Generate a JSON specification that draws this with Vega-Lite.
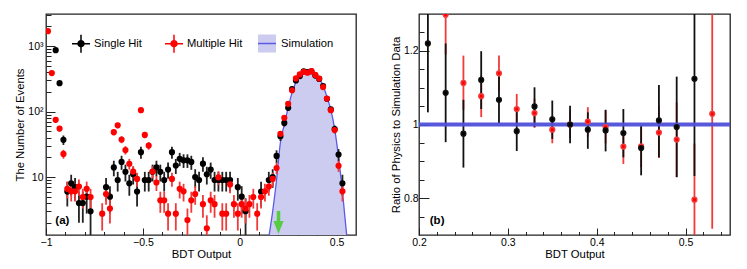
{
  "$schema": "https://vega.github.io/schema/vega-lite/v6.json",
  "background": "white",
  "padding": {"left": 14, "top": 13, "right": 5, "bottom": 2},
  "spacing": 63,
  "bounds": "flush",
  "config": {
    "view": {"stroke": "#222", "strokeWidth": 1.3},
    "font": "Liberation Sans",
    "axis": {"domain": false, "grid": false, "labelFont": "Liberation Sans", "labelFontSize": 10.5, "labelColor": "#000", "titleFont": "Liberation Sans", "titleFontSize": 11.3, "titleFontWeight": "normal", "titleColor": "#000", "tickColor": "#222", "tickWidth": 1, "labelFlush": false, "labelOverlap": false, "labelBound": false},
    "legend": {"labelFont": "Liberation Sans", "labelFontSize": 11.2, "labelColor": "#000", "padding": 0}
  },
  "datasets": {
    "left": [
      {"x":-0.95,"s":"Single Hit","y":869,"lo":839.5,"hi":898.5},
      {"x":-0.93,"s":"Single Hit","y":272,"lo":255.5,"hi":288.5},
      {"x":-0.91,"s":"Single Hit","y":37,"lo":30.9,"hi":43.1},
      {"x":-0.89,"s":"Single Hit","y":6,"lo":3.55,"hi":8.45},
      {"x":-0.87,"s":"Single Hit","y":8,"lo":5.17,"hi":10.83},
      {"x":-0.85,"s":"Single Hit","y":7,"lo":4.35,"hi":9.65},
      {"x":-0.83,"s":"Single Hit","y":4,"lo":2,"hi":6},
      {"x":-0.81,"s":"Single Hit","y":4,"lo":2,"hi":6},
      {"x":-0.79,"s":"Single Hit","y":5,"lo":2.76,"hi":7.24},
      {"x":-0.77,"s":"Single Hit","y":3,"lo":1.27,"hi":4.73},
      {"x":-0.69,"s":"Single Hit","y":7,"lo":4.35,"hi":9.65},
      {"x":-0.67,"s":"Single Hit","y":5,"lo":2.76,"hi":7.24},
      {"x":-0.65,"s":"Single Hit","y":14,"lo":10.26,"hi":17.74},
      {"x":-0.63,"s":"Single Hit","y":9,"lo":6,"hi":12},
      {"x":-0.61,"s":"Single Hit","y":17,"lo":12.88,"hi":21.12},
      {"x":-0.59,"s":"Single Hit","y":12,"lo":8.54,"hi":15.46},
      {"x":-0.57,"s":"Single Hit","y":8,"lo":5.17,"hi":10.83},
      {"x":-0.55,"s":"Single Hit","y":11,"lo":7.68,"hi":14.32},
      {"x":-0.53,"s":"Single Hit","y":6,"lo":3.55,"hi":8.45},
      {"x":-0.51,"s":"Single Hit","y":24,"lo":19.1,"hi":28.9},
      {"x":-0.49,"s":"Single Hit","y":9,"lo":6,"hi":12},
      {"x":-0.47,"s":"Single Hit","y":9,"lo":6,"hi":12},
      {"x":-0.45,"s":"Single Hit","y":12,"lo":8.54,"hi":15.46},
      {"x":-0.43,"s":"Single Hit","y":14,"lo":10.26,"hi":17.74},
      {"x":-0.41,"s":"Single Hit","y":12,"lo":8.54,"hi":15.46},
      {"x":-0.39,"s":"Single Hit","y":9,"lo":6,"hi":12},
      {"x":-0.37,"s":"Single Hit","y":13,"lo":9.39,"hi":16.61},
      {"x":-0.35,"s":"Single Hit","y":24,"lo":19.1,"hi":28.9},
      {"x":-0.33,"s":"Single Hit","y":15,"lo":11.13,"hi":18.87},
      {"x":-0.31,"s":"Single Hit","y":19,"lo":14.64,"hi":23.36},
      {"x":-0.29,"s":"Single Hit","y":18,"lo":13.76,"hi":22.24},
      {"x":-0.27,"s":"Single Hit","y":18,"lo":13.76,"hi":22.24},
      {"x":-0.25,"s":"Single Hit","y":17,"lo":12.88,"hi":21.12},
      {"x":-0.23,"s":"Single Hit","y":10,"lo":6.84,"hi":13.16},
      {"x":-0.21,"s":"Single Hit","y":9,"lo":6,"hi":12},
      {"x":-0.19,"s":"Single Hit","y":16,"lo":12,"hi":20},
      {"x":-0.17,"s":"Single Hit","y":11,"lo":7.68,"hi":14.32},
      {"x":-0.15,"s":"Single Hit","y":13,"lo":9.39,"hi":16.61},
      {"x":-0.13,"s":"Single Hit","y":9,"lo":6,"hi":12},
      {"x":-0.11,"s":"Single Hit","y":9,"lo":6,"hi":12},
      {"x":-0.09,"s":"Single Hit","y":9,"lo":6,"hi":12},
      {"x":-0.07,"s":"Single Hit","y":9,"lo":6,"hi":12},
      {"x":-0.05,"s":"Single Hit","y":9,"lo":6,"hi":12},
      {"x":-0.01,"s":"Single Hit","y":7,"lo":4.35,"hi":9.65},
      {"x":0.01,"s":"Single Hit","y":5,"lo":2.76,"hi":7.24},
      {"x":0.03,"s":"Single Hit","y":3,"lo":1.27,"hi":4.73},
      {"x":0.11,"s":"Single Hit","y":6,"lo":3.55,"hi":8.45},
      {"x":0.15,"s":"Single Hit","y":9,"lo":6,"hi":12},
      {"x":0.17,"s":"Single Hit","y":10,"lo":6.84,"hi":13.16},
      {"x":0.19,"s":"Single Hit","y":21,"lo":16.42,"hi":25.58},
      {"x":0.21,"s":"Single Hit","y":42,"lo":35.52,"hi":48.48},
      {"x":0.23,"s":"Single Hit","y":67,"lo":58.81,"hi":75.19},
      {"x":0.25,"s":"Single Hit","y":114,"lo":103.3,"hi":124.7},
      {"x":0.27,"s":"Single Hit","y":220,"lo":205.2,"hi":234.8},
      {"x":0.29,"s":"Single Hit","y":299,"lo":281.7,"hi":316.3},
      {"x":0.31,"s":"Single Hit","y":349,"lo":330.3,"hi":367.7},
      {"x":0.33,"s":"Single Hit","y":412,"lo":391.7,"hi":432.3},
      {"x":0.35,"s":"Single Hit","y":403,"lo":382.9,"hi":423.1},
      {"x":0.37,"s":"Single Hit","y":412,"lo":391.7,"hi":432.3},
      {"x":0.39,"s":"Single Hit","y":355,"lo":336.2,"hi":373.8},
      {"x":0.41,"s":"Single Hit","y":316,"lo":298.2,"hi":333.8},
      {"x":0.43,"s":"Single Hit","y":246,"lo":230.3,"hi":261.7},
      {"x":0.45,"s":"Single Hit","y":157,"lo":144.5,"hi":169.5},
      {"x":0.47,"s":"Single Hit","y":108,"lo":97.6,"hi":118.4},
      {"x":0.49,"s":"Single Hit","y":54,"lo":46.65,"hi":61.35},
      {"x":0.51,"s":"Single Hit","y":22,"lo":17.31,"hi":26.69},
      {"x":0.53,"s":"Single Hit","y":8,"lo":5.17,"hi":10.83},
      {"x":-0.99,"s":"Multiple Hit","y":1694,"lo":1663.5,"hi":1724.5},
      {"x":-0.97,"s":"Multiple Hit","y":387.2,"lo":372.6,"hi":401.8},
      {"x":-0.95,"s":"Multiple Hit","y":74.8,"lo":68.4,"hi":81.2},
      {"x":-0.93,"s":"Multiple Hit","y":55,"lo":49.5,"hi":60.5},
      {"x":-0.91,"s":"Multiple Hit","y":22.55,"lo":19.03,"hi":26.07},
      {"x":-0.89,"s":"Multiple Hit","y":6.6,"lo":4.7,"hi":8.5},
      {"x":-0.87,"s":"Multiple Hit","y":6.05,"lo":4.23,"hi":7.87},
      {"x":-0.85,"s":"Multiple Hit","y":6.05,"lo":4.23,"hi":7.87},
      {"x":-0.83,"s":"Multiple Hit","y":7.15,"lo":5.17,"hi":9.13},
      {"x":-0.81,"s":"Multiple Hit","y":4.95,"lo":3.3,"hi":6.6},
      {"x":-0.79,"s":"Multiple Hit","y":6.6,"lo":4.7,"hi":8.5},
      {"x":-0.77,"s":"Multiple Hit","y":4.95,"lo":3.3,"hi":6.6},
      {"x":-0.71,"s":"Multiple Hit","y":2.75,"lo":1.52,"hi":3.98},
      {"x":-0.69,"s":"Multiple Hit","y":5.5,"lo":3.76,"hi":7.24},
      {"x":-0.67,"s":"Multiple Hit","y":3.3,"lo":1.95,"hi":4.65},
      {"x":-0.65,"s":"Multiple Hit","y":48.4,"lo":43.24,"hi":53.56},
      {"x":-0.63,"s":"Multiple Hit","y":61.6,"lo":55.78,"hi":67.42},
      {"x":-0.61,"s":"Multiple Hit","y":37.4,"lo":32.86,"hi":41.94},
      {"x":-0.59,"s":"Multiple Hit","y":25.85,"lo":22.08,"hi":29.62},
      {"x":-0.57,"s":"Multiple Hit","y":15.95,"lo":12.99,"hi":18.91},
      {"x":-0.55,"s":"Multiple Hit","y":12.1,"lo":9.52,"hi":14.68},
      {"x":-0.53,"s":"Multiple Hit","y":9.35,"lo":7.08,"hi":11.62},
      {"x":-0.51,"s":"Multiple Hit","y":105.05,"lo":97.45,"hi":112.65},
      {"x":-0.49,"s":"Multiple Hit","y":44,"lo":39.08,"hi":48.92},
      {"x":-0.47,"s":"Multiple Hit","y":30.25,"lo":26.17,"hi":34.33},
      {"x":-0.45,"s":"Multiple Hit","y":12.1,"lo":9.52,"hi":14.68},
      {"x":-0.43,"s":"Multiple Hit","y":8.25,"lo":6.12,"hi":10.38},
      {"x":-0.41,"s":"Multiple Hit","y":4.4,"lo":2.84,"hi":5.96},
      {"x":-0.39,"s":"Multiple Hit","y":4.4,"lo":2.84,"hi":5.96},
      {"x":-0.37,"s":"Multiple Hit","y":2.75,"lo":1.52,"hi":3.98},
      {"x":-0.35,"s":"Multiple Hit","y":9.35,"lo":7.08,"hi":11.62},
      {"x":-0.33,"s":"Multiple Hit","y":2.75,"lo":1.52,"hi":3.98},
      {"x":-0.31,"s":"Multiple Hit","y":6.6,"lo":4.7,"hi":8.5},
      {"x":-0.29,"s":"Multiple Hit","y":6.05,"lo":4.23,"hi":7.87},
      {"x":-0.27,"s":"Multiple Hit","y":2.2,"lo":1.1,"hi":3.3},
      {"x":-0.25,"s":"Multiple Hit","y":4.4,"lo":2.84,"hi":5.96},
      {"x":-0.23,"s":"Multiple Hit","y":5.5,"lo":3.76,"hi":7.24},
      {"x":-0.19,"s":"Multiple Hit","y":3.85,"lo":2.39,"hi":5.31},
      {"x":-0.17,"s":"Multiple Hit","y":1.65,"lo":0.7,"hi":2.6},
      {"x":-0.15,"s":"Multiple Hit","y":4.4,"lo":2.84,"hi":5.96},
      {"x":-0.13,"s":"Multiple Hit","y":3.85,"lo":2.39,"hi":5.31},
      {"x":-0.11,"s":"Multiple Hit","y":9.9,"lo":7.57,"hi":12.23},
      {"x":-0.09,"s":"Multiple Hit","y":2.75,"lo":1.52,"hi":3.98},
      {"x":-0.07,"s":"Multiple Hit","y":2.75,"lo":1.52,"hi":3.98},
      {"x":-0.05,"s":"Multiple Hit","y":7.7,"lo":5.64,"hi":9.76},
      {"x":-0.03,"s":"Multiple Hit","y":3.85,"lo":2.39,"hi":5.31},
      {"x":-0.01,"s":"Multiple Hit","y":2.75,"lo":1.52,"hi":3.98},
      {"x":0.01,"s":"Multiple Hit","y":3.85,"lo":2.39,"hi":5.31},
      {"x":0.03,"s":"Multiple Hit","y":3.3,"lo":1.95,"hi":4.65},
      {"x":0.05,"s":"Multiple Hit","y":3.85,"lo":2.39,"hi":5.31},
      {"x":0.07,"s":"Multiple Hit","y":4.95,"lo":3.3,"hi":6.6},
      {"x":0.09,"s":"Multiple Hit","y":2.75,"lo":1.52,"hi":3.98},
      {"x":0.11,"s":"Multiple Hit","y":4.95,"lo":3.3,"hi":6.6},
      {"x":0.13,"s":"Multiple Hit","y":6.05,"lo":4.23,"hi":7.87},
      {"x":0.15,"s":"Multiple Hit","y":7.15,"lo":5.17,"hi":9.13},
      {"x":0.17,"s":"Multiple Hit","y":9.35,"lo":7.08,"hi":11.62},
      {"x":0.19,"s":"Multiple Hit","y":13.75,"lo":11,"hi":16.5},
      {"x":0.21,"s":"Multiple Hit","y":45.65,"lo":40.64,"hi":50.66},
      {"x":0.23,"s":"Multiple Hit","y":80.3,"lo":73.65,"hi":86.95},
      {"x":0.25,"s":"Multiple Hit","y":131.45,"lo":122.95,"hi":139.95},
      {"x":0.27,"s":"Multiple Hit","y":211.2,"lo":200.4,"hi":222},
      {"x":0.29,"s":"Multiple Hit","y":321.2,"lo":307.9,"hi":334.5},
      {"x":0.31,"s":"Multiple Hit","y":370.15,"lo":355.9,"hi":384.4},
      {"x":0.33,"s":"Multiple Hit","y":404.8,"lo":389.9,"hi":419.7},
      {"x":0.35,"s":"Multiple Hit","y":392.15,"lo":377.5,"hi":406.8},
      {"x":0.37,"s":"Multiple Hit","y":415.25,"lo":400.1,"hi":430.4},
      {"x":0.39,"s":"Multiple Hit","y":363,"lo":348.9,"hi":377.1},
      {"x":0.41,"s":"Multiple Hit","y":319,"lo":305.8,"hi":332.3},
      {"x":0.43,"s":"Multiple Hit","y":237.05,"lo":225.6,"hi":248.5},
      {"x":0.45,"s":"Multiple Hit","y":157.85,"lo":148.5,"hi":167.2},
      {"x":0.47,"s":"Multiple Hit","y":105.05,"lo":97.45,"hi":112.65},
      {"x":0.49,"s":"Multiple Hit","y":52.25,"lo":46.9,"hi":57.6},
      {"x":0.51,"s":"Multiple Hit","y":14.85,"lo":12,"hi":17.7},
      {"x":0.53,"s":"Multiple Hit","y":6.05,"lo":4.23,"hi":7.87}
    ],
    "sim": [
      {"x":0.15,"y":1.2,"m":"Simulation"},
      {"x":0.17,"y":3.0,"m":"Simulation"},
      {"x":0.19,"y":9,"m":"Simulation"},
      {"x":0.21,"y":34,"m":"Simulation"},
      {"x":0.23,"y":63,"m":"Simulation"},
      {"x":0.25,"y":115,"m":"Simulation"},
      {"x":0.27,"y":195,"m":"Simulation"},
      {"x":0.29,"y":280,"m":"Simulation"},
      {"x":0.31,"y":350,"m":"Simulation"},
      {"x":0.33,"y":392,"m":"Simulation"},
      {"x":0.35,"y":405,"m":"Simulation"},
      {"x":0.37,"y":406,"m":"Simulation"},
      {"x":0.39,"y":365,"m":"Simulation"},
      {"x":0.41,"y":318,"m":"Simulation"},
      {"x":0.43,"y":250,"m":"Simulation"},
      {"x":0.45,"y":168,"m":"Simulation"},
      {"x":0.47,"y":107,"m":"Simulation"},
      {"x":0.49,"y":54,"m":"Simulation"},
      {"x":0.51,"y":20,"m":"Simulation"},
      {"x":0.53,"y":6,"m":"Simulation"},
      {"x":0.553,"y":1.2,"m":"Simulation"}
    ],
    "ratio": [
      {"x":0.23,"s":"Multiple Hit","y":1.298,"lo":1.19,"hi":1.41},
      {"x":0.25,"s":"Multiple Hit","y":1.113,"lo":1.04,"hi":1.187},
      {"x":0.27,"s":"Multiple Hit","y":1.077,"lo":1.02,"hi":1.133},
      {"x":0.29,"s":"Multiple Hit","y":1.139,"lo":1.09,"hi":1.187},
      {"x":0.31,"s":"Multiple Hit","y":1.042,"lo":1.002,"hi":1.083},
      {"x":0.33,"s":"Multiple Hit","y":1.031,"lo":0.991,"hi":1.07},
      {"x":0.35,"s":"Multiple Hit","y":0.986,"lo":0.949,"hi":1.024},
      {"x":0.37,"s":"Multiple Hit","y":1.0,"lo":0.964,"hi":1.038},
      {"x":0.39,"s":"Multiple Hit","y":1.008,"lo":0.967,"hi":1.047},
      {"x":0.41,"s":"Multiple Hit","y":0.993,"lo":0.949,"hi":1.038},
      {"x":0.43,"s":"Multiple Hit","y":0.94,"lo":0.893,"hi":0.982},
      {"x":0.45,"s":"Multiple Hit","y":0.941,"lo":0.884,"hi":0.993},
      {"x":0.47,"s":"Multiple Hit","y":0.978,"lo":0.909,"hi":1.05},
      {"x":0.49,"s":"Multiple Hit","y":0.959,"lo":0.857,"hi":1.06},
      {"x":0.51,"s":"Multiple Hit","y":0.796,"lo":0.65,"hi":0.948},
      {"x":0.53,"s":"Multiple Hit","y":1.029,"lo":0.717,"hi":1.4},
      {"x":0.21,"s":"Single Hit","y":1.22,"lo":1.033,"hi":1.41},
      {"x":0.23,"s":"Single Hit","y":1.086,"lo":0.952,"hi":1.22},
      {"x":0.25,"s":"Single Hit","y":0.975,"lo":0.883,"hi":1.067},
      {"x":0.27,"s":"Single Hit","y":1.121,"lo":1.042,"hi":1.199},
      {"x":0.29,"s":"Single Hit","y":1.067,"lo":1.004,"hi":1.13},
      {"x":0.31,"s":"Single Hit","y":0.982,"lo":0.928,"hi":1.038},
      {"x":0.33,"s":"Single Hit","y":1.049,"lo":0.993,"hi":1.101},
      {"x":0.35,"s":"Single Hit","y":1.014,"lo":0.961,"hi":1.065},
      {"x":0.37,"s":"Single Hit","y":1.0,"lo":0.949,"hi":1.051},
      {"x":0.39,"s":"Single Hit","y":0.986,"lo":0.934,"hi":1.033},
      {"x":0.41,"s":"Single Hit","y":0.984,"lo":0.927,"hi":1.04},
      {"x":0.43,"s":"Single Hit","y":0.977,"lo":0.911,"hi":1.042},
      {"x":0.45,"s":"Single Hit","y":0.936,"lo":0.862,"hi":0.997},
      {"x":0.47,"s":"Single Hit","y":1.011,"lo":0.911,"hi":1.107},
      {"x":0.49,"s":"Single Hit","y":0.993,"lo":0.857,"hi":1.13},
      {"x":0.51,"s":"Single Hit","y":1.124,"lo":0.86,"hi":1.4}
    ]
  },
  "hconcat": [
    {
      "width": 310,
      "height": 221,
      "layer": [
        {
          "data": {"name": "sim"},
          "mark": {"type": "area", "clip": true, "interpolate": "monotone", "strokeWidth": 1.3, "opacity": 1},
          "encoding": {
            "x": {"field": "x", "type": "quantitative", "title": "BDT Output",
              "scale": {"domain": [-1, 0.6], "nice": false, "zero": false},
              "axis": {"orient": "bottom", "values": [-1, -0.5, 0, 0.5], "format": "~g", "tickSize": -7, "labelPadding": 9, "titlePadding": 1}},
            "y": {"field": "y", "type": "quantitative", "title": "The Number of Events",
              "scale": {"type": "log", "domain": [1.3, 3100], "nice": false},
              "axis": {"orient": "left", "values": [10, 100, 1000],
                "labelExpr": "datum.value == 10 ? '10' : datum.value == 100 ? '10²' : '10³'",
                "tickSize": -9, "labelPadding": 12, "titlePadding": 2}},
            "y2": {"datum": 1},
            "fill": {"field": "m", "type": "nominal", "scale": {"domain": ["Simulation"], "range": ["#ccccf0"]},
              "legend": {"title": null, "orient": "none", "legendX": 211, "legendY": 19.5, "direction": "horizontal", "symbolType": "M-1,0H1V1H-1V-1H1V0", "symbolSize": 324, "symbolDash": [18, 400], "symbolStrokeWidth": 1.5, "labelOffset": 4}},
            "stroke": {"field": "m", "type": "nominal", "scale": {"domain": ["Simulation"], "range": ["#5b5be6"]},
              "legend": {"title": null, "orient": "none", "legendX": 211, "legendY": 19.5, "direction": "horizontal", "symbolType": "M-1,0H1V1H-1V-1H1V0", "symbolSize": 324, "symbolDash": [18, 400], "symbolStrokeWidth": 1.5, "labelOffset": 4}}
          }
        },
        {
          "data": {"name": "left"},
          "mark": {"type": "rule", "clip": true, "strokeWidth": 1.8},
          "encoding": {
            "x": {"field": "x", "type": "quantitative",
              "axis": {"orient": "bottom", "values": [-0.9,-0.8,-0.7,-0.6,-0.4,-0.3,-0.2,-0.1,0.1,0.2,0.3,0.4], "labels": false, "tickSize": -3.5, "title": null}},
            "y": {"field": "lo", "type": "quantitative",
              "axis": {"orient": "left", "values": [2,3,4,5,6,7,8,9,20,30,40,50,60,70,80,90,200,300,400,500,600,700,800,900,2000,3000], "labels": false, "tickSize": -5, "title": null}},
            "y2": {"field": "hi"},
            "stroke": {"field": "s", "type": "nominal", "scale": {"domain": ["Single Hit", "Multiple Hit"], "range": ["#222222", "#f23a3a"]}, "legend": null}
          }
        },
        {
          "data": {"name": "left"},
          "mark": {"type": "point", "filled": true, "shape": "circle", "size": 22, "strokeWidth": 1.5, "opacity": 1, "clip": true},
          "encoding": {
            "x": {"field": "x", "type": "quantitative", "axis": null},
            "y": {"field": "y", "type": "quantitative", "axis": null},
            "fill": {"field": "s", "type": "nominal", "scale": {"domain": ["Single Hit", "Multiple Hit"], "range": ["#000000", "#ff0000"]},
              "legend": {"title": null, "orient": "none", "legendX": 25, "legendY": 19.7, "direction": "horizontal", "symbolType": "M-1,0H1M0,-1V1M-0.33,0A0.33,0.33,0,1,1,0.33,0A0.33,0.33,0,1,1,-0.33,0Z", "symbolSize": 324, "symbolStrokeWidth": 1.5, "labelOffset": 3, "columnPadding": 20}},
            "stroke": {"field": "s", "type": "nominal", "scale": {"domain": ["Single Hit", "Multiple Hit"], "range": ["#000000", "#ff0000"]},
              "legend": {"title": null, "orient": "none", "legendX": 25, "legendY": 19.7, "direction": "horizontal", "symbolType": "M-1,0H1M0,-1V1M-0.33,0A0.33,0.33,0,1,1,0.33,0A0.33,0.33,0,1,1,-0.33,0Z", "symbolSize": 324, "symbolStrokeWidth": 1.5, "labelOffset": 3, "columnPadding": 20}}
          }
        },
        {
          "data": {"values": [{}]},
          "mark": {"type": "rule", "color": "#55cc44", "strokeWidth": 3.5},
          "encoding": {"x": {"datum": 0.2, "axis": null}, "y": {"datum": 3.03, "axis": null}, "y2": {"datum": 1.95}}
        },
        {
          "data": {"values": [{}]},
          "mark": {"type": "point", "filled": true, "color": "#55cc44", "opacity": 1, "size": 160, "shape": "M-0.8,-1L0.8,-1L0,1Z"},
          "encoding": {"x": {"datum": 0.2, "axis": null}, "y": {"datum": 1.7, "axis": null}}
        },
        {
          "data": {"values": [{}]},
          "mark": {"type": "text", "text": "(a)", "font": "Liberation Sans", "fontSize": 11.5, "fontWeight": "bold", "align": "center", "baseline": "middle", "color": "#000"},
          "encoding": {"x": {"datum": -0.9155, "axis": null}, "y": {"datum": 2.13, "axis": null}}
        }
      ],
      "resolve": {"scale": {"fill": "independent", "stroke": "independent"}, "axis": {"x": "independent", "y": "independent"}}
    },
    {
      "width": 311,
      "height": 221,
      "layer": [
        {
          "data": {"name": "ratio"},
          "mark": {"type": "rule", "clip": true, "strokeWidth": 1.8},
          "encoding": {
            "x": {"field": "x", "type": "quantitative", "title": "BDT Output",
              "scale": {"domain": [0.2, 0.55], "nice": false, "zero": false},
              "axis": {"orient": "bottom", "values": [0.2, 0.3, 0.4, 0.5], "format": "~g", "tickSize": -7, "labelPadding": 9, "titlePadding": 1}},
            "y": {"field": "lo", "type": "quantitative", "title": "Ratio of Physics to Simulation Data",
              "scale": {"domain": [0.7, 1.3], "nice": false, "zero": false},
              "axis": {"orient": "left", "values": [0.8, 1, 1.2], "format": "~g", "tickSize": -10, "labelPadding": 11, "titlePadding": 2}},
            "y2": {"field": "hi"},
            "stroke": {"field": "s", "type": "nominal", "scale": {"domain": ["Single Hit", "Multiple Hit"], "range": ["#111111", "#f23a3a"]}, "legend": null}
          }
        },
        {
          "data": {"values": [{}]},
          "mark": {"type": "rule", "color": "#4f4fd8", "strokeWidth": 4, "opacity": 0.95},
          "encoding": {"y": {"datum": 1, "axis": null}}
        },
        {
          "data": {"name": "ratio"},
          "mark": {"type": "point", "filled": true, "shape": "circle", "size": 22, "strokeWidth": 1.5, "opacity": 1, "clip": true},
          "encoding": {
            "x": {"field": "x", "type": "quantitative",
              "axis": {"orient": "bottom", "values": [0.22,0.24,0.26,0.28,0.32,0.34,0.36,0.38,0.42,0.44,0.46,0.48,0.52,0.54], "labels": false, "tickSize": -3.5, "title": null}},
            "y": {"field": "y", "type": "quantitative",
              "axis": {"orient": "left", "values": [0.75,0.85,0.9,0.95,1.05,1.1,1.15,1.25], "labels": false, "tickSize": -5, "title": null}},
            "fill": {"field": "s", "type": "nominal", "scale": {"domain": ["Single Hit", "Multiple Hit"], "range": ["#000000", "#ff0000"]}, "legend": null},
            "stroke": {"field": "s", "type": "nominal", "scale": {"domain": ["Single Hit", "Multiple Hit"], "range": ["#000000", "#ff0000"]}, "legend": null}
          }
        },
        {
          "data": {"values": [{}]},
          "mark": {"type": "text", "text": "(b)", "font": "Liberation Sans", "fontSize": 11.5, "fontWeight": "bold", "align": "center", "baseline": "middle", "color": "#000"},
          "encoding": {"x": {"datum": 0.2204, "axis": null}, "y": {"datum": 0.739, "axis": null}}
        }
      ],
      "resolve": {"axis": {"x": "independent", "y": "independent"}}
    }
  ]
}
